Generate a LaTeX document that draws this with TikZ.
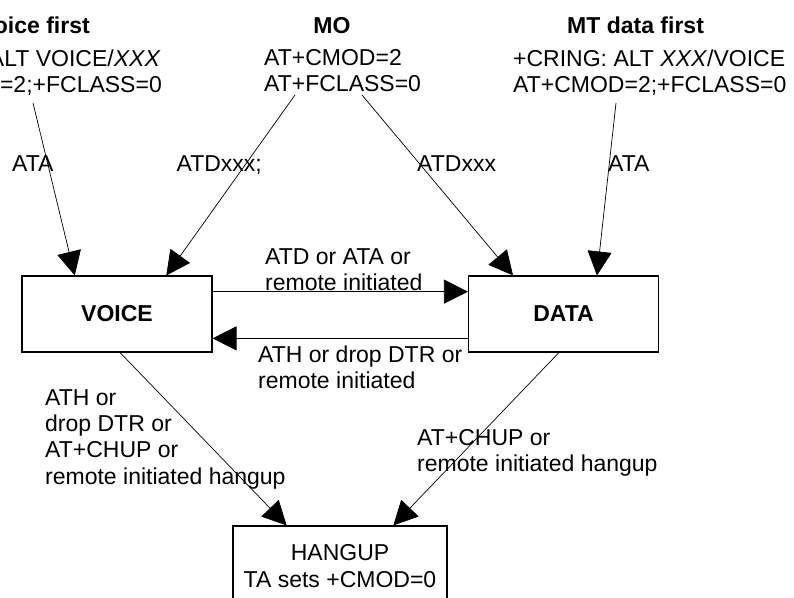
\documentclass[tikz,border=0pt]{standalone}
\usepackage{fontspec}
\setmainfont{Liberation Sans}
\usetikzlibrary{arrows.meta,calc}
\begin{document}
\begin{tikzpicture}[x=1pt,y=-1pt,
  txt/.style={inner sep=0pt,font=\fontsize{23}{25.5}\selectfont,align=left},
  boldtxt/.style={inner sep=0pt,font=\fontsize{23}{26}\selectfont\bfseries},
  statebox/.style={draw,line width=1.1pt,inner sep=0pt,minimum width=190pt,minimum height=76pt,font=\fontsize{23}{26}\selectfont\bfseries},
  arr/.style={line width=0.7pt,-{Triangle[length=24pt,width=24pt]}}]
\useasboundingbox (0,0) rectangle (794,597);
% boxes
\node[statebox] (voice) at (117,314) {VOICE};
\node[statebox] (data) at (563.5,314) {DATA};
\node[draw,line width=1.1pt,inner sep=0pt,minimum width=214pt,minimum height=80pt,font=\fontsize{23}{27}\selectfont,align=center] (hang) at (340,566) {HANGUP\\TA sets +CMOD=0};
% top texts
\node[boldtxt,anchor=base east] (vfh) at (90,33) {MT voice first};
\node[txt,anchor=base east] (vft) at (162,92) {+CRING: ALT VOICE/\textit{XXX}\\AT+CMOD=2;+FCLASS=0};
\node[boldtxt,anchor=base] (moh) at (332,33) {MO};
\node[txt,anchor=base west] (mot) at (264,91) {AT+CMOD=2\\AT+FCLASS=0};
\node[boldtxt,anchor=base west] (mth) at (567,33) {MT data first};
\node[txt,anchor=base west] (mtt) at (513,92) {+CRING: ALT \textit{XXX}/VOICE\\AT+CMOD=2;+FCLASS=0};
% arrow start points
\coordinate (vfs) at (33,103);
\coordinate (mos1) at (295,95);
\coordinate (mos2) at (362,95);
\coordinate (mts) at (616,103);
% arrows
\draw[arr] (vfs) -- ($(voice.north west)!0.279!(voice.north east)$);
\draw[arr] (mos1) -- ($(voice.north west)!0.758!(voice.north east)$);
\draw[arr] (mos2) -- ($(data.north west)!0.236!(data.north east)$);
\draw[arr] (mts) -- ($(data.north west)!0.675!(data.north east)$);
\draw[arr] ($(voice.north east)!0.21!(voice.south east)$) -- ($(data.north west)!0.21!(data.south west)$);
\draw[arr] ($(data.north west)!0.816!(data.south west)$) -- ($(voice.north east)!0.816!(voice.south east)$);
\draw[arr] ($(voice.south west)!0.516!(voice.south east)$) -- ($(hang.north west)!0.252!(hang.north east)$);
\draw[arr] ($(data.south west)!0.476!(data.south east)$) -- ($(hang.north west)!0.748!(hang.north east)$);
% labels
\node[txt,anchor=base west] (l1) at (12,171) {ATA};
\node[txt,anchor=base east] (l2) at (262,171) {ATDxxx;};
\node[txt,anchor=base west] (l3) at (417,171) {ATDxxx};
\node[txt,anchor=base west] (l4) at (608,171) {ATA};
\node[txt,anchor=base west] (l5) at (265,290) {ATD or ATA or\\remote initiated};
\node[txt,anchor=base west] (l6) at (258,388) {ATH or drop DTR or\\remote initiated};
\node[txt,anchor=base west,font=\fontsize{23}{26.3}\selectfont] (l7) at (45,484) {ATH or\\drop DTR or\\AT+CHUP or\\remote initiated hangup};
\node[txt,anchor=base west] (l8) at (417,471) {AT+CHUP or\\remote initiated hangup};
\end{tikzpicture}
\end{document}
